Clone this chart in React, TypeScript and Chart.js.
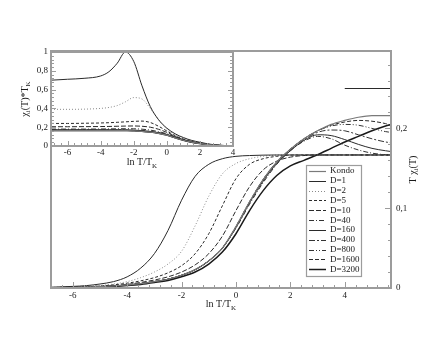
import React, { useEffect, useRef } from 'react';
import { Chart, registerables } from 'chart.js';
Chart.register(...registerables);

// ---------- data ----------
const seriesLabels = ['Kondo', 'D=1', 'D=2', 'D=5', 'D=10', 'D=40', 'D=160', 'D=400', 'D=800', 'D=1600', 'D=3200'];

// main panel: T chi_i(T) vs ln T/T_K
const mainLnT = [-6.8, -6, -5.5, -5, -4.5, -4, -3.5, -3, -2.5, -2, -1.5, -1, -0.5, 0, 0.5, 1, 1.5, 2, 2.5, 3, 3.5, 4, 4.5, 5, 5.5, 5.7];
const mainKondo = [0.0003, 0.0006, 0.001, 0.0016, 0.0025, 0.0038, 0.0055, 0.008, 0.011, 0.016, 0.023, 0.034, 0.05, 0.077, 0.108, 0.136, 0.158, 0.174, 0.187, 0.197, 0.205, 0.21, 0.214, 0.216, 0.216, 0.216];
const mainD1 = [0.001, 0.002, 0.003, 0.005, 0.008, 0.014, 0.025, 0.043, 0.072, 0.11, 0.14, 0.155, 0.162, 0.165, 0.166, 0.1665, 0.1667, 0.1667, 0.1667, 0.1667, 0.1667, 0.1667, 0.1667, 0.1667, 0.1667, 0.1667];
const mainD2 = [0.0007, 0.0013, 0.002, 0.003, 0.005, 0.008, 0.013, 0.02, 0.03, 0.046, 0.078, 0.115, 0.143, 0.156, 0.162, 0.165, 0.1665, 0.1667, 0.1667, 0.1667, 0.1667, 0.1667, 0.1667, 0.1667, 0.1667, 0.1667];
const mainD5 = [0.0005, 0.001, 0.0015, 0.0025, 0.004, 0.006, 0.009, 0.013, 0.019, 0.028, 0.043, 0.068, 0.103, 0.137, 0.155, 0.162, 0.165, 0.1665, 0.1667, 0.1667, 0.1667, 0.1667, 0.1667, 0.1667, 0.1667, 0.1667];
const mainD10 = [0.0004, 0.0008, 0.0012, 0.002, 0.003, 0.0045, 0.007, 0.01, 0.014, 0.02, 0.029, 0.043, 0.065, 0.097, 0.127, 0.148, 0.159, 0.164, 0.166, 0.1667, 0.1667, 0.1667, 0.1667, 0.1667, 0.1667, 0.1667];
const mainD40 = [0.0003, 0.0006, 0.001, 0.0016, 0.0025, 0.0038, 0.0055, 0.008, 0.011, 0.016, 0.023, 0.034, 0.05, 0.075, 0.105, 0.132, 0.155, 0.172, 0.184, 0.19, 0.187, 0.179, 0.173, 0.169, 0.167, 0.1667];
const mainD160 = [0.0003, 0.0006, 0.001, 0.0016, 0.0025, 0.0038, 0.0055, 0.008, 0.011, 0.016, 0.023, 0.034, 0.05, 0.076, 0.107, 0.134, 0.156, 0.172, 0.185, 0.192, 0.191, 0.186, 0.18, 0.175, 0.172, 0.171];
const mainD400 = [0.0003, 0.0006, 0.001, 0.0016, 0.0025, 0.0038, 0.0055, 0.008, 0.011, 0.016, 0.023, 0.034, 0.05, 0.076, 0.107, 0.135, 0.157, 0.173, 0.186, 0.195, 0.198, 0.197, 0.192, 0.187, 0.183, 0.182];
const mainD800 = [0.0003, 0.0006, 0.001, 0.0016, 0.0025, 0.0038, 0.0055, 0.008, 0.011, 0.016, 0.023, 0.034, 0.05, 0.077, 0.108, 0.136, 0.158, 0.174, 0.187, 0.197, 0.203, 0.205, 0.204, 0.2, 0.196, 0.195];
const mainD1600 = [0.0003, 0.0006, 0.001, 0.0016, 0.0025, 0.0038, 0.0055, 0.008, 0.011, 0.016, 0.023, 0.034, 0.05, 0.077, 0.108, 0.136, 0.158, 0.174, 0.187, 0.197, 0.204, 0.208, 0.21, 0.209, 0.206, 0.204];
const mainD3200 = [0.0003, 0.0005, 0.0008, 0.0013, 0.002, 0.003, 0.0045, 0.0068, 0.0095, 0.014, 0.02, 0.03, 0.045, 0.068, 0.097, 0.122, 0.141, 0.153, 0.16, 0.167, 0.175, 0.183, 0.19, 0.197, 0.203, 0.205];
const freeSpinLnT = [4, 5.7];
const freeSpinValue = [0.25, 0.25];

// inset: chi_i(T)*T_K vs ln T/T_K
const insetLnT = [-7, -6, -5, -4, -3.5, -3, -2.5, -2, -1.5, -1, -0.5, 0, 0.5, 1, 1.5, 2, 2.5, 3, 3.5, 4];
const insetKondo = [0.164, 0.164, 0.164, 0.164, 0.164, 0.164, 0.163, 0.161, 0.156, 0.147, 0.134, 0.115, 0.087, 0.061, 0.041, 0.026, 0.015, 0.007, 0.003, 0.001];
const insetD1 = [0.70, 0.71, 0.72, 0.745, 0.79, 0.88, 1.0, 0.9, 0.64, 0.42, 0.28, 0.19, 0.13, 0.09, 0.06, 0.04, 0.022, 0.01, 0.004, 0.001];
const insetD2 = [0.39, 0.39, 0.392, 0.4, 0.41, 0.43, 0.47, 0.515, 0.5, 0.4, 0.28, 0.18, 0.12, 0.082, 0.055, 0.036, 0.02, 0.009, 0.004, 0.001];
const insetD5 = [0.24, 0.24, 0.242, 0.245, 0.248, 0.252, 0.257, 0.262, 0.265, 0.25, 0.21, 0.16, 0.11, 0.075, 0.05, 0.032, 0.018, 0.008, 0.003, 0.001];
const insetD10 = [0.205, 0.205, 0.206, 0.207, 0.208, 0.21, 0.212, 0.213, 0.21, 0.2, 0.178, 0.145, 0.102, 0.07, 0.047, 0.03, 0.017, 0.008, 0.003, 0.001];
const insetD40 = [0.18, 0.18, 0.18, 0.181, 0.182, 0.183, 0.184, 0.183, 0.179, 0.169, 0.153, 0.13, 0.096, 0.066, 0.044, 0.028, 0.016, 0.008, 0.003, 0.001];
const insetD160 = [0.172, 0.172, 0.172, 0.172, 0.172, 0.172, 0.171, 0.169, 0.164, 0.155, 0.142, 0.123, 0.092, 0.064, 0.043, 0.027, 0.016, 0.007, 0.003, 0.001];
const insetD400 = [0.169, 0.169, 0.169, 0.169, 0.169, 0.169, 0.168, 0.166, 0.161, 0.152, 0.139, 0.12, 0.09, 0.063, 0.042, 0.027, 0.015, 0.007, 0.003, 0.001];
const insetD800 = [0.167, 0.167, 0.167, 0.167, 0.167, 0.167, 0.166, 0.164, 0.159, 0.15, 0.137, 0.118, 0.089, 0.062, 0.042, 0.026, 0.015, 0.007, 0.003, 0.001];
const insetD1600 = [0.166, 0.166, 0.166, 0.166, 0.166, 0.166, 0.165, 0.163, 0.158, 0.149, 0.136, 0.117, 0.088, 0.062, 0.041, 0.026, 0.015, 0.007, 0.003, 0.001];
const insetD3200 = [0.165, 0.165, 0.165, 0.165, 0.165, 0.165, 0.164, 0.162, 0.157, 0.148, 0.135, 0.116, 0.088, 0.061, 0.041, 0.026, 0.015, 0.007, 0.003, 0.001];

const mainSeries = [mainKondo, mainD1, mainD2, mainD5, mainD10, mainD40, mainD160, mainD400, mainD800, mainD1600, mainD3200];
const insetSeries = [insetKondo, insetD1, insetD2, insetD5, insetD10, insetD40, insetD160, insetD400, insetD800, insetD1600, insetD3200];

// ticks
const mainXTicks = [-6, -4, -2, 0, 2, 4];
const mainYTicks = [0, 0.1, 0.2];
const mainYTickLabels = ['0', '0,1', '0,2'];
const insetXTicks = [-6, -4, -2, 0, 2, 4];
const insetYTicks = [0, 0.2, 0.4, 0.6, 0.8, 1];
const insetYTickLabels = ['0', '0,2', '0,4', '0,6', '0,8', '1'];

// ---------- styles ----------
const FONT = '"Liberation Serif", "DejaVu Serif", serif';
const AXIS = '#9c9c9c';
const TEXT = '#1a1a1a';
const seriesStyles = [
  { color: '#7a7a7a', width: 1.2, dash: [] as number[] },
  { color: '#2a2a2a', width: 1, dash: [] },
  { color: '#8a8a8a', width: 1, dash: [1, 2] },
  { color: '#2a2a2a', width: 1, dash: [3, 2] },
  { color: '#2a2a2a', width: 1, dash: [5, 2] },
  { color: '#333333', width: 1, dash: [5, 2, 1, 2] },
  { color: '#2a2a2a', width: 1, dash: [] },
  { color: '#333333', width: 1, dash: [6, 2, 2, 2] },
  { color: '#333333', width: 1, dash: [5, 2, 1, 2, 1, 2] },
  { color: '#2a2a2a', width: 1, dash: [4, 2] },
  { color: '#1a1a1a', width: 1.5, dash: [] },
];

type Part = { t: string; sub?: boolean };
function drawRich(ctx: CanvasRenderingContext2D, parts: Part[], x: number, y: number, size: number) {
  const fMain = `${size}px ${FONT}`;
  const fSub = `${Math.round(size * 0.72)}px ${FONT}`;
  let w = 0;
  for (const p of parts) {
    ctx.font = p.sub ? fSub : fMain;
    w += ctx.measureText(p.t).width;
  }
  let cx = x - w / 2;
  ctx.textAlign = 'left';
  ctx.textBaseline = 'alphabetic';
  for (const p of parts) {
    ctx.font = p.sub ? fSub : fMain;
    ctx.fillText(p.t, cx, p.sub ? y + size * 0.28 : y);
    cx += ctx.measureText(p.t).width;
  }
}

function tickLoop(min: number, max: number, step: number, majorStep: number, fn: (v: number, major: boolean) => void) {
  const k0 = Math.ceil(min / step - 1e-9);
  const k1 = Math.floor(max / step + 1e-9);
  for (let k = k0; k <= k1; k++) {
    const v = k * step;
    const r = v / majorStep;
    fn(v, Math.abs(r - Math.round(r)) < 1e-6);
  }
}

const mainDecor = {
  id: 'mainDecor',
  afterDatasetsDraw(chart: any) {
    const { ctx, chartArea: a } = chart;
    const x = chart.scales.x;
    const y = chart.scales.y;
    ctx.save();
    ctx.strokeStyle = AXIS;
    ctx.lineWidth = 1;
    ctx.beginPath();
    tickLoop(x.min, x.max, 0.4, 2, (v, major) => {
      const px = Math.round(x.getPixelForValue(v)) + 0.5;
      ctx.moveTo(px, a.bottom);
      ctx.lineTo(px, a.bottom - (major ? 6 : 3));
    });
    tickLoop(y.min, y.max, 0.02, 0.1, (v, major) => {
      const py = Math.round(y.getPixelForValue(v)) + 0.5;
      ctx.moveTo(a.right, py);
      ctx.lineTo(a.right - (major ? 6 : 3), py);
    });
    ctx.stroke();
    ctx.lineWidth = 2;
    ctx.strokeRect(a.left, a.top, a.right - a.left, a.bottom - a.top);

    ctx.fillStyle = TEXT;
    ctx.font = `9px ${FONT}`;
    ctx.textAlign = 'center';
    ctx.textBaseline = 'middle';
    mainXTicks.forEach((v) => ctx.fillText(String(v), x.getPixelForValue(v), a.bottom + 8));
    ctx.textAlign = 'left';
    mainYTicks.forEach((v, i) => ctx.fillText(mainYTickLabels[i], a.right + 5, y.getPixelForValue(v)));

    drawRich(ctx, [{ t: 'ln T/T' }, { t: 'K', sub: true }], (a.left + a.right) / 2, a.bottom + 19, 10);
    ctx.save();
    ctx.translate(a.right + 21, (a.top + a.bottom) / 2);
    ctx.rotate(-Math.PI / 2);
    drawRich(ctx, [{ t: 'T χ' }, { t: 'i', sub: true }, { t: '(T)' }], 0, 3.5, 10);
    ctx.restore();

    // legend
    const lx = 306, ly = 165, lw = 55, lh = 111;
    ctx.fillStyle = '#ffffff';
    ctx.fillRect(lx, ly, lw, lh);
    ctx.strokeStyle = AXIS;
    ctx.lineWidth = 1.2;
    ctx.strokeRect(lx + 0.5, ly + 0.5, lw, lh);
    seriesLabels.forEach((lab, i) => {
      const ds = chart.data.datasets[i];
      const yy = ly + 6 + i * 9.83;
      ctx.beginPath();
      ctx.setLineDash(ds.borderDash || []);
      ctx.strokeStyle = ds.borderColor;
      ctx.lineWidth = ds.borderWidth;
      ctx.moveTo(lx + 3, Math.round(yy) + 0.5);
      ctx.lineTo(lx + 20, Math.round(yy) + 0.5);
      ctx.stroke();
      ctx.setLineDash([]);
      ctx.fillStyle = TEXT;
      ctx.font = `9px ${FONT}`;
      ctx.textAlign = 'left';
      ctx.textBaseline = 'middle';
      ctx.fillText(lab, lx + 24, yy);
    });
    ctx.restore();
  },
};

const insetDecor = {
  id: 'insetDecor',
  beforeDatasetsDraw(chart: any) {
    const { ctx, chartArea: a } = chart;
    ctx.save();
    ctx.fillStyle = '#ffffff';
    ctx.fillRect(a.left, a.top, a.right - a.left, a.bottom - a.top);
    ctx.restore();
  },
  afterDatasetsDraw(chart: any) {
    const { ctx, chartArea: a } = chart;
    const x = chart.scales.x;
    const y = chart.scales.y;
    ctx.save();
    ctx.strokeStyle = AXIS;
    ctx.lineWidth = 1;
    ctx.beginPath();
    tickLoop(x.min, x.max, 0.4, 2, (v, major) => {
      const px = Math.round(x.getPixelForValue(v)) + 0.5;
      ctx.moveTo(px, a.bottom);
      ctx.lineTo(px, a.bottom - (major ? 5 : 3));
    });
    tickLoop(y.min, y.max, 0.04, 0.2, (v, major) => {
      const py = Math.round(y.getPixelForValue(v)) + 0.5;
      ctx.moveTo(a.left, py);
      ctx.lineTo(a.left + (major ? 5 : 3), py);
      ctx.moveTo(a.right, py);
      ctx.lineTo(a.right - (major ? 5 : 3), py);
    });
    ctx.stroke();
    ctx.lineWidth = 2;
    ctx.strokeRect(a.left, a.top, a.right - a.left, a.bottom - a.top);

    ctx.fillStyle = TEXT;
    ctx.font = `9px ${FONT}`;
    ctx.textAlign = 'center';
    ctx.textBaseline = 'middle';
    insetXTicks.forEach((v) => ctx.fillText(String(v), x.getPixelForValue(v), a.bottom + 7));
    ctx.textAlign = 'right';
    insetYTicks.forEach((v, i) => ctx.fillText(insetYTickLabels[i], a.left - 3, y.getPixelForValue(v)));

    drawRich(ctx, [{ t: 'ln T/T' }, { t: 'K', sub: true }], (a.left + a.right) / 2, a.bottom + 19, 10);
    ctx.save();
    ctx.translate(a.left - 27, (a.top + a.bottom) / 2);
    ctx.rotate(-Math.PI / 2);
    drawRich(ctx, [{ t: 'χ' }, { t: 'i', sub: true }, { t: '(T)*T' }, { t: 'K', sub: true }], 0, 3.5, 10);
    ctx.restore();
    ctx.restore();
  },
};

function makeDatasets(xs: number[], series: number[][]) {
  return series.map((arr, i) => ({
    label: seriesLabels[i],
    data: xs.map((xv, j) => ({ x: xv, y: arr[j] })),
    borderColor: seriesStyles[i].color,
    borderWidth: seriesStyles[i].width,
    borderDash: seriesStyles[i].dash,
    pointRadius: 0,
    fill: false,
    cubicInterpolationMode: 'monotone' as const,
  }));
}

export default function App() {
  const mainRef = useRef<HTMLCanvasElement>(null);
  const insetRef = useRef<HTMLCanvasElement>(null);

  useEffect(() => {
    const mainDatasets: any[] = makeDatasets(mainLnT, mainSeries);
    mainDatasets.push({
      label: '',
      data: freeSpinLnT.map((xv, j) => ({ x: xv, y: freeSpinValue[j] })),
      borderColor: '#2a2a2a',
      borderWidth: 1,
      pointRadius: 0,
      fill: false,
    });
    const main = new Chart(mainRef.current!, {
      type: 'line',
      data: { datasets: mainDatasets },
      options: {
        responsive: false,
        animation: false,
        devicePixelRatio: 1,
        layout: { padding: { left: 51, top: 51, right: 49, bottom: 52 } },
        plugins: { legend: { display: false }, tooltip: { enabled: false } },
        scales: {
          x: { type: 'linear', min: -6.8, max: 5.7, display: false },
          y: { type: 'linear', min: 0, max: 0.297, display: false },
        },
      },
      plugins: [mainDecor],
    });
    const inset = new Chart(insetRef.current!, {
      type: 'line',
      data: { datasets: makeDatasets(insetLnT, insetSeries) },
      options: {
        responsive: false,
        animation: false,
        devicePixelRatio: 1,
        layout: { padding: { left: 51, top: 52, right: 17, bottom: 29 } },
        plugins: { legend: { display: false }, tooltip: { enabled: false } },
        scales: {
          x: { type: 'linear', min: -7, max: 4, display: false },
          y: { type: 'linear', min: 0, max: 1, display: false },
        },
      },
      plugins: [insetDecor],
    });
    return () => {
      main.destroy();
      inset.destroy();
    };
  }, []);

  return (
    <div style={{ position: 'fixed', left: 0, top: 0, width: 440, height: 340, background: '#ffffff' }}>
      <canvas ref={mainRef} width={440} height={340} style={{ position: 'absolute', left: 0, top: 0, width: 440, height: 340 }} />
      <canvas ref={insetRef} width={250} height={175} style={{ position: 'absolute', left: 0, top: 0, width: 250, height: 175 }} />
    </div>
  );
}
